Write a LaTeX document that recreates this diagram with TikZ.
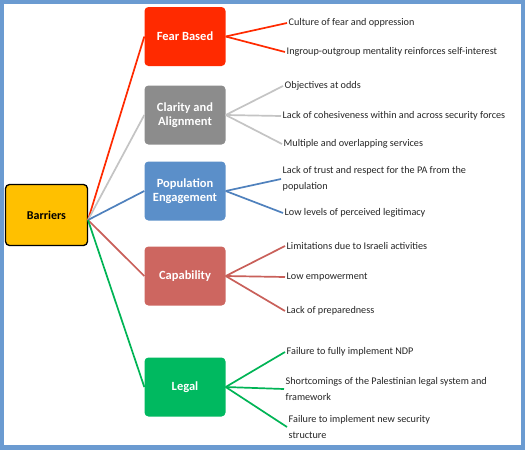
\documentclass[tikz,border=0pt]{standalone}
\usepackage{fontspec}
\setmainfont{Carlito}
\definecolor{frameblue}{HTML}{6B9BD1}
\definecolor{fearc}{HTML}{FF2A00}
\definecolor{clarc}{HTML}{8C8C8C}
\definecolor{clarl}{HTML}{C4C4C4}
\definecolor{popc}{HTML}{5B8FC9}
\definecolor{popl}{HTML}{4F81BD}
\definecolor{capc}{HTML}{CD6660}
\definecolor{capl}{HTML}{C9605A}
\definecolor{legc}{HTML}{00B960}
\definecolor{legl}{HTML}{00B455}
\definecolor{barc}{HTML}{FFC000}
\definecolor{leaftext}{HTML}{262626}
\tikzset{
  cat/.style={rounded corners=4pt, minimum width=81pt, minimum height=59pt, inner sep=0pt,
    text=white, font=\fontsize{12.5}{14}\selectfont\bfseries, align=center},
  leaf/.style={anchor=west, inner sep=1.5pt, text=leaftext, font=\fontsize{10.2}{16}\selectfont, align=left},
  conn/.style={line width=1.7pt},
}
\begin{document}
\begin{tikzpicture}[x=1pt,y=-1pt]
\fill[frameblue] (0,0) rectangle (525,450);
\fill[white] (4,4) rectangle (521,445);
\useasboundingbox (0,0) rectangle (525,450);

\node[draw=black, line width=1.3pt, fill=barc, rounded corners=4pt, minimum width=82pt, minimum height=61pt, inner sep=0pt, font=\fontsize{12}{14}\selectfont\bfseries] (bar) at (46.5,215) {Barriers};
\coordinate (hub) at (88,220);

\node[cat, fill=fearc] (fear) at (185,36.5) {Fear Based};
\node[cat, fill=clarc] (clar) at (185,115) {Clarity and\\Alignment};
\node[cat, fill=popc] (pop) at (185,191) {Population\\Engagement};
\node[cat, fill=capc] (cap) at (185,276) {Capability};
\node[cat, fill=legc] (leg) at (185,387) {Legal};

\draw[conn, fearc] (hub) -- (fear.west);
\draw[conn, clarl] (hub) -- (clar.west);
\draw[conn, popl] (hub) -- (pop.west);
\draw[conn, capl] (hub) -- (cap.west);
\draw[conn, legl] (hub) -- (leg.west);

\node[leaf] (f1) at (287,23) {Culture of fear and oppression};
\node[leaf] (f2) at (285,52) {Ingroup-outgroup mentality reinforces self-interest};
\node[leaf] (c1) at (283,86) {Objectives at odds};
\node[leaf] (c2) at (281,116) {Lack of cohesiveness within and across security forces};
\node[leaf] (c3) at (282,144) {Multiple and overlapping services};
\node[leaf] (p1) at (281,179) {Lack of trust and respect for the PA from the\\population};
\node[leaf] (p2) at (283,213) {Low levels of perceived legitimacy};
\node[leaf] (k1) at (285,246) {Limitations due to Israeli activities};
\node[leaf] (k2) at (285,277) {Low empowerment};
\node[leaf] (k3) at (285,311) {Lack of preparedness};
\node[leaf] (l1) at (285,352) {Failure to fully implement NDP};
\node[leaf] (l2) at (284,389) {Shortcomings of the Palestinian legal system and\\framework};
\node[leaf] (l3) at (287,427) {Failure to implement new security\\structure};

\foreach \a in {f1,f2} \draw[conn, fearc] (fear.east) -- (\a.west);
\foreach \a in {c1,c2,c3} \draw[conn, clarl] (clar.east) -- (\a.west);
\foreach \a in {p1,p2} \draw[conn, popl] (pop.east) -- (\a.west);
\foreach \a in {k1,k2,k3} \draw[conn, capl] (cap.east) -- (\a.west);
\foreach \a in {l1,l2,l3} \draw[conn, legl] (leg.east) -- (\a.west);
\end{tikzpicture}
\end{document}
